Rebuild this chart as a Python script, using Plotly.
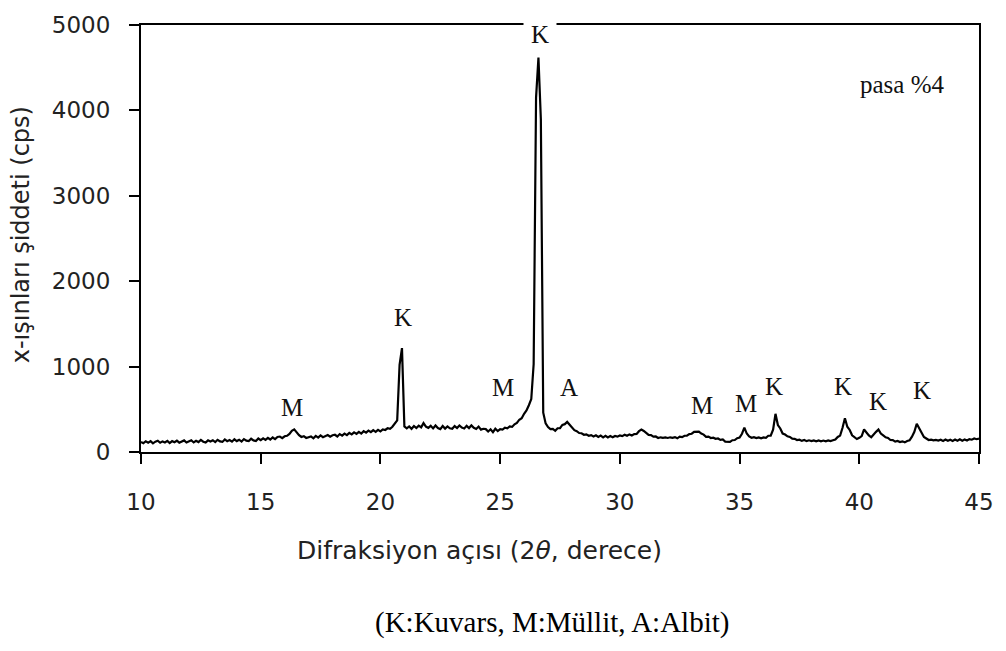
import plotly.graph_objects as go

# XRD step scan: 2-theta from 10.0 to 45.0 deg, step 0.1 deg
scan_start = 10.0
scan_step = 0.1
intensity = [
    118, 104, 126, 110, 128, 102, 121, 132, 108, 124,   # 10.x
    112, 130, 104, 127, 114, 134, 109, 125, 136, 111,   # 11.x
    128, 138, 112, 131, 116, 141, 120, 110, 136, 122,   # 12.x
    138, 116, 143, 124, 118, 147, 126, 140, 121, 149,   # 13.x
    128, 144, 122, 151, 133, 127, 155, 136, 129, 158,   # 14.x
    139, 160, 141, 165, 146, 170, 151, 176, 181, 162,   # 15.x
    184, 190, 212, 248, 265, 226, 198, 176, 186, 164,   # 16.x
    174, 182, 160, 188, 168, 194, 174, 190, 198, 180,   # 17.x
    196, 202, 182, 210, 192, 216, 198, 224, 206, 230,   # 18.x
    212, 236, 216, 244, 226, 250, 232, 256, 236, 260,   # 19.x
    242, 264, 258, 278, 272, 296, 330, 370, 1020, 1216, # 20.x
    300, 278, 300, 272, 304, 280, 308, 288, 338, 298,   # 21.x
    282, 306, 276, 310, 280, 268, 304, 274, 300, 278,   # 22.x
    272, 304, 280, 310, 286, 276, 306, 280, 312, 284,   # 23.x
    270, 298, 262, 272, 268, 240, 266, 232, 272, 246,   # 24.x
    268, 262, 284, 278, 300, 294, 324, 340, 378, 396,   # 25.x
    448, 486, 548, 620, 1030, 4150, 4620, 3900, 460, 335,  # 26.x
    292, 268, 270, 248, 278, 280, 318, 326, 352, 316,   # 27.x
    286, 256, 244, 222, 220, 202, 206, 190, 198, 182,   # 28.x
    196, 176, 192, 172, 190, 170, 186, 172, 188, 180,   # 29.x
    194, 186, 202, 190, 206, 194, 210, 212, 244, 262,   # 30.x
    246, 228, 200, 198, 180, 182, 164, 172, 166, 170,   # 31.x
    164, 172, 166, 174, 160, 180, 174, 190, 192, 210,   # 32.x
    214, 236, 240, 238, 216, 204, 178, 180, 164, 168,   # 33.x
    154, 158, 142, 146, 122, 124, 118, 138, 140, 162,   # 34.x
    170, 214, 285, 216, 182, 166, 174, 164, 171, 160,   # 35.x
    170, 166, 190, 192, 262, 447, 316, 276, 216, 204,   # 36.x
    184, 176, 156, 154, 140, 144, 130, 140, 127, 137,   # 37.x
    128, 136, 126, 135, 125, 134, 126, 136, 128, 137,   # 38.x
    146, 176, 192, 284, 396, 296, 258, 196, 174, 152,   # 39.x
    166, 186, 264, 226, 194, 172, 198, 236, 264, 216,   # 40.x
    194, 172, 164, 140, 139, 122, 129, 116, 125, 113,   # 41.x
    129, 136, 180, 236, 331, 276, 218, 176, 158, 140,   # 42.x
    144, 136, 142, 134, 144, 130, 146, 132, 144, 130,   # 43.x
    146, 132, 148, 132, 147, 134, 151, 144, 158, 150,   # 44.x
    158,                                                # 45.0
]
two_theta = [round(scan_start + scan_step * i, 1) for i in range(len(intensity))]

# Phase labels (K: Kuvars, M: Müllit, A: Albit)
label_text = ["M", "K", "M", "K", "A", "M", "M", "K", "K", "K", "K"]
label_x = [16.3, 20.94, 25.14, 26.65, 27.89, 33.44, 35.27, 36.44, 39.33, 40.78, 42.64]
label_y = [523, 1570, 754, 4893, 750, 543, 566, 764, 764, 591, 716]

x_ticks = [10, 15, 20, 25, 30, 35, 40, 45]
y_ticks = [0, 1000, 2000, 3000, 4000, 5000]

fig = go.Figure()
fig.add_trace(go.Scatter(
    x=two_theta, y=intensity, mode="lines",
    line=dict(color="black", width=2.2),
    showlegend=False, hoverinfo="skip",
))

serif = "Liberation Serif"
sans = "DejaVu Sans"

annotations = []
for t, lx, ly in zip(label_text, label_x, label_y):
    ann = dict(x=lx, y=ly, xref="x", yref="y", text=t, showarrow=False,
               font=dict(family=serif, size=25, color="#111"),
               xanchor="center", yanchor="middle")
    if ly > 4500:
        ann.update(bgcolor="white", borderpad=7)
    annotations.append(ann)

annotations.append(dict(x=41.78, y=4300, xref="x", yref="y", text="pasa %4",
                        showarrow=False, font=dict(family=serif, size=25, color="#111"),
                        xanchor="center", yanchor="middle"))
annotations.append(dict(x=0.4038, y=-0.231, xref="paper", yref="paper",
                        text="Difraksiyon açısı (2<i>θ</i>, derece)", showarrow=False,
                        font=dict(family=sans, size=25, color="#222"),
                        xanchor="center", yanchor="middle"))
annotations.append(dict(x=-0.143, y=0.508, xref="paper", yref="paper",
                        text="x-ışınları şiddeti (cps)", showarrow=False, textangle=-90,
                        font=dict(family=sans, size=24, color="#222"),
                        xanchor="center", yanchor="middle"))
annotations.append(dict(x=0.49, y=-0.3995, xref="paper", yref="paper",
                        text="(K:Kuvars, M:Müllit, A:Albit)", showarrow=False,
                        font=dict(family=serif, size=29, color="black"),
                        xanchor="center", yanchor="middle"))

fig.update_layout(
    width=1006, height=651,
    margin=dict(l=141, r=18, t=19, b=199, pad=0),
    paper_bgcolor="white", plot_bgcolor="white",
    annotations=annotations,
    xaxis=dict(range=[10, 45], tickvals=x_ticks, ticks="outside", ticklen=10,
               tickwidth=1.5, tickcolor="black", showline=True, linecolor="black",
               linewidth=2, mirror=True, showgrid=False, zeroline=False,
               ticklabelstandoff=18,
               tickfont=dict(family=sans, size=23, color="#222")),
    yaxis=dict(range=[0, 5000], tickvals=y_ticks, ticks="outside", ticklen=10,
               tickwidth=1.5, tickcolor="black", showline=True, linecolor="black",
               linewidth=2, mirror=True, showgrid=False, zeroline=False,
               ticklabelstandoff=14,
               tickfont=dict(family=sans, size=23, color="#222")),
)

fig.write_html("out.html")
